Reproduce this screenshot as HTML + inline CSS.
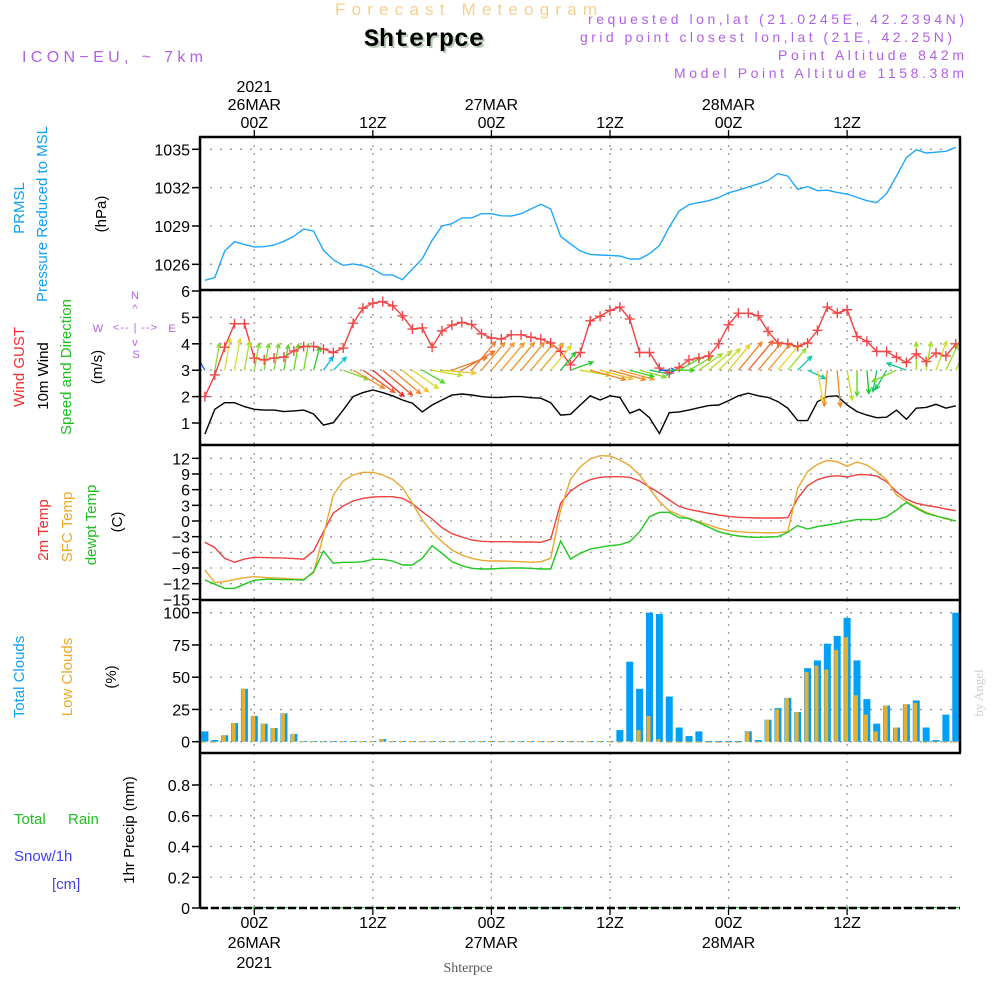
<!DOCTYPE html>
<html><head><meta charset="utf-8"><style>
html,body{margin:0;padding:0;background:#fff;}
svg{display:block;font-family:"Liberation Sans",sans-serif;}
</style></head><body>
<svg id="chart" width="1000" height="1000" viewBox="0 0 1000 1000" xmlns="http://www.w3.org/2000/svg">
<defs><clipPath id="plotclip"><rect x="200" y="137" width="760" height="771"/></clipPath></defs>
<rect x="0" y="0" width="1000" height="1000" fill="#fff"/>
<g id="grid"></g>
<g id="marks" clip-path="url(#plotclip)"></g>
<g id="frame"></g>
<g id="labels">
<text x="466" y="15" font-size="17" fill="#f4d08c" text-anchor="middle" textLength="262">Forecast Meteogram</text>
<text x="426" y="48" font-size="25" font-weight="bold" font-family="Liberation Mono, monospace" fill="#b8ccb8" text-anchor="middle">Shterpce</text>
<text x="424" y="46" font-size="25" font-weight="bold" font-family="Liberation Mono, monospace" fill="#000" text-anchor="middle">Shterpce</text>
<text x="22" y="62" font-size="16" fill="#b060e8" textLength="181">ICON−EU, ~ 7km</text>
<text x="964" y="24" font-size="14" fill="#b060e8" text-anchor="end" textLength="376">requested lon,lat (21.0245E, 42.2394N)</text>
<text x="952" y="42" font-size="14" fill="#b060e8" text-anchor="end" textLength="372">grid point closest lon,lat (21E, 42.25N)</text>
<text x="964" y="60" font-size="14" fill="#b060e8" text-anchor="end" textLength="186">Point Altitude 842m</text>
<text x="964" y="78" font-size="14" fill="#b060e8" text-anchor="end" textLength="290">Model Point Altitude 1158.38m</text>

<text transform="translate(24,208) rotate(-90)" font-size="15" fill="#10a0f0" text-anchor="middle">PRMSL</text>
<text transform="translate(47,214) rotate(-90)" font-size="15" fill="#10a0f0" text-anchor="middle">Pressure Reduced to MSL</text>
<text transform="translate(106,214) rotate(-90)" font-size="15" fill="#000" text-anchor="middle">(hPa)</text>

<text transform="translate(24,367) rotate(-90)" font-size="15" fill="#f03030" text-anchor="middle">Wind GUST</text>
<text transform="translate(48,376) rotate(-90)" font-size="15" fill="#000" text-anchor="middle">10m Wind</text>
<text transform="translate(71,367) rotate(-90)" font-size="15" fill="#20c020" text-anchor="middle">Speed and Direction</text>
<text transform="translate(102,367) rotate(-90)" font-size="15" fill="#000" text-anchor="middle">(m/s)</text>
<g fill="#b060e8" font-size="11" text-anchor="middle">
<text x="135" y="299">N</text><text x="98" y="332">W</text><text x="172" y="332">E</text><text x="136" y="358">S</text>
<text x="135" y="331" font-size="11" textLength="44">&lt;-- | --&gt;</text>
<text x="135" y="312">^</text><text x="135" y="346">v</text>
</g>

<text transform="translate(48,530) rotate(-90)" font-size="15" fill="#f03030" text-anchor="middle">2m Temp</text>
<text transform="translate(72,527) rotate(-90)" font-size="15" fill="#f0a828" text-anchor="middle">SFC Temp</text>
<text transform="translate(96,525) rotate(-90)" font-size="15" fill="#20c020" text-anchor="middle">dewpt Temp</text>
<text transform="translate(122,522) rotate(-90)" font-size="15" fill="#000" text-anchor="middle">(C)</text>

<text transform="translate(24,677) rotate(-90)" font-size="15" fill="#10a0f0" text-anchor="middle">Total Clouds</text>
<text transform="translate(72,677) rotate(-90)" font-size="15" fill="#f0a828" text-anchor="middle">Low Clouds</text>
<text transform="translate(116,677) rotate(-90)" font-size="15" fill="#000" text-anchor="middle">(%)</text>

<text x="14" y="824" font-size="15" fill="#20c020">Total</text>
<text x="68" y="824" font-size="15" fill="#20c020">Rain</text>
<text x="14" y="861" font-size="15" fill="#4040f0">Snow/1h</text>
<text x="52" y="889" font-size="15" fill="#4040f0">[cm]</text>
<text transform="translate(134,830) rotate(-90)" font-size="15" fill="#000" text-anchor="middle">1hr Precip (mm)</text>

<text transform="translate(983,693) rotate(-90)" font-size="13" font-family="Liberation Serif, serif" fill="#d0d0d0" text-anchor="middle">by Angel</text>
<text x="468" y="972" font-size="14" font-family="Liberation Serif, serif" fill="#555" text-anchor="middle">Shterpce</text>
</g>
</svg>
<script>
// ---- data (hourly from h=-5 to h=71, h=0 is 26MAR 00Z) ----
const hours = [-5,-4,-3,-2,-1,0,1,2,3,4,5,6,7,8,9,10,11,12,13,14,15,16,17,18,19,20,21,22,23,24,25,26,27,28,29,30,31,32,33,34,35,36,37,38,39,40,41,42,43,44,45,46,47,48,49,50,51,52,53,54,55,56,57,58,59,60,61,62,63,64,65,66,67,68,69,70,71];
const pressure = [1024.75,1024.96,1027.04,1027.77,1027.56,1027.36,1027.38,1027.51,1027.8,1028.19,1028.76,1028.6,1027.1,1026.36,1025.92,1026.03,1025.9,1025.63,1025.19,1025.16,1024.8,1025.63,1026.44,1027.88,1029.0,1029.18,1029.63,1029.63,1029.96,1029.96,1029.8,1029.78,1029.96,1030.33,1030.7,1030.33,1028.19,1027.6,1027.04,1026.78,1026.73,1026.7,1026.65,1026.42,1026.42,1026.83,1027.46,1028.92,1030.17,1030.67,1030.83,1030.98,1031.22,1031.6,1031.8,1032.05,1032.29,1032.57,1033.1,1032.9,1031.87,1032.08,1031.76,1031.8,1031.63,1031.5,1031.24,1030.98,1030.83,1031.53,1032.9,1034.35,1034.97,1034.71,1034.77,1034.84,1035.16];
const gust = [2.0,2.82,3.87,4.76,4.76,3.46,3.39,3.46,3.5,3.73,3.9,3.9,3.8,3.67,3.84,4.78,5.35,5.54,5.6,5.44,5.06,4.56,4.6,3.87,4.49,4.71,4.81,4.73,4.38,4.22,4.18,4.34,4.34,4.25,4.18,4.03,3.71,3.2,3.67,4.87,5.04,5.27,5.39,4.94,3.67,3.67,3.08,2.89,3.11,3.39,3.46,3.54,4.0,4.72,5.16,5.16,5.06,4.47,4.03,4.0,3.9,4.03,4.51,5.39,5.16,5.29,4.28,4.09,3.71,3.71,3.49,3.29,3.62,3.33,3.65,3.54,4.0];
const windSpeed = [0.58,1.52,1.77,1.77,1.62,1.52,1.49,1.49,1.43,1.46,1.49,1.34,0.92,1.01,1.49,2.0,2.15,2.25,2.15,2.03,1.87,1.75,1.42,1.68,1.87,2.06,2.1,2.06,2.0,1.97,1.97,2.0,2.0,1.96,1.94,1.77,1.3,1.33,1.68,2.03,1.87,2.03,1.97,1.37,1.52,1.2,0.6,1.39,1.42,1.49,1.58,1.66,1.68,1.84,2.03,2.13,2.03,1.97,1.81,1.56,1.09,1.09,1.81,2.0,2.03,1.68,1.43,1.3,1.2,1.22,1.49,1.14,1.56,1.59,1.71,1.56,1.65];
const windDir = [330,10,10,10,10,10,10,10,10,10,10,15,35,45,110,120,125,130,130,130,130,125,120,100,95,70,60,40,40,40,40,40,40,40,40,40,40,70,100,105,105,105,105,105,105,100,90,90,60,60,55,50,45,40,40,40,40,40,40,40,45,115,170,185,175,170,180,175,190,210,245,290,0,10,20,25,25];
const temp2m = [-4.08,-5.1,-7.15,-7.9,-7.3,-6.95,-7.0,-7.05,-7.1,-7.2,-7.3,-5.74,-2.04,1.53,2.87,3.83,4.34,4.6,4.66,4.66,4.34,3.32,1.79,0.38,-1.28,-2.43,-3.06,-3.64,-3.89,-3.96,-3.96,-3.96,-4.02,-4.02,-4.08,-3.5,3.38,5.74,7.02,7.91,8.36,8.49,8.49,8.36,7.66,6.5,5.36,4.02,2.8,2.23,1.85,1.47,1.15,0.89,0.7,0.64,0.57,0.57,0.57,0.64,4.34,6.76,7.91,8.49,8.68,8.42,8.87,8.87,8.6,7.53,5.6,4.2,3.38,3.0,2.68,2.3,1.98];
const tempSfc = [-9.38,-11.8,-11.6,-11.2,-10.85,-10.66,-10.79,-10.92,-10.98,-11.1,-11.17,-9.9,-2.7,4.98,7.66,8.8,9.32,9.32,8.8,7.98,6.38,3.38,0.19,-2.17,-3.96,-5.55,-6.51,-7.15,-7.53,-7.66,-7.66,-7.72,-7.79,-7.91,-7.79,-7.15,2.1,7.98,10.4,11.87,12.5,12.44,11.68,10.6,8.8,6.25,3.7,1.98,1.15,0.38,-0.13,-0.77,-1.4,-1.85,-2.04,-2.17,-2.23,-2.3,-2.23,-2.04,6.25,9.45,10.85,11.6,11.36,10.47,11.3,10.72,9.45,7.85,4.98,3.7,2.68,1.66,1.02,0.38,0.0];
const dewpt = [-11.3,-12.1,-12.9,-12.9,-12.1,-11.36,-11.17,-11.17,-11.23,-11.23,-11.3,-9.7,-5.74,-8.1,-7.91,-7.91,-7.79,-7.34,-7.34,-7.66,-8.42,-8.42,-7.15,-4.72,-6.19,-7.79,-8.55,-9.06,-9.19,-9.19,-9.06,-9.0,-9.0,-9.06,-9.19,-9.19,-3.83,-7.28,-6.19,-5.36,-5.04,-4.72,-4.53,-3.96,-2.04,0.83,1.66,1.66,0.64,0.51,-0.32,-1.21,-2.04,-2.55,-2.87,-3.06,-3.13,-3.06,-3.0,-2.17,-0.89,-1.53,-1.08,-0.77,-0.45,-0.06,0.26,0.26,0.26,0.83,2.1,3.57,2.43,1.47,0.96,0.51,0.0];
const totalClouds = [8,1.3,5,14.5,41,20,14,10.6,22,6,0.5,0.5,0.5,0.5,0.5,0.5,0.5,0.5,2,0.5,0.5,0.5,0.5,0.5,0.5,0.5,0.5,0.5,0.5,0.5,0.5,0.5,0.5,0.5,0.5,0.5,0.5,0.5,0.5,0.5,0.5,0.5,9,62,41,100,99,35,11,4.4,8,0.5,0.5,0.5,0.5,8,1.3,17,26,34,23,57,63,76,82,96,63,33,14,28,11,29,32,11,1.3,21,100];
const lowClouds = [0,0,5,14.5,41,20,14,10.6,22,6,0.5,0.5,0.5,0.5,0.5,0.5,0.5,0.5,2,0.5,0.5,0.5,0.5,0.5,0.5,0.5,0.5,0.5,0.5,0.5,0.5,0.5,0.5,0.5,0.5,0.5,0.5,0.5,0.5,0.5,0.5,0.5,0,0.5,9,20,2,0,0,0,0,0,0,0,0,7.5,0,17,25,34,23,54,59,56,71,81,36,21,8,28,11,29,30,0,0,0,0];
const precip = hours.map(()=>0);
const timeTicks = [0,12,24,36,48,60];
const timeLabels = ["00Z","12Z","00Z","12Z","00Z","12Z"];
const dateLabels = ["26MAR","","27MAR","","28MAR",""];
const pTicks = [1026,1029,1032,1035];
const wTicks = [1,2,3,4,5,6];
const tTicks = [12,9,6,3,0,-3,-6,-9,-12,-15];
const cTicks = [0,25,50,75,100];
const rTicks = [0,0.2,0.4,0.6,0.8];

// ---- axes ----
const X = h => 254.3 + h*9.88;
const yP = p => 149.3 + (1035-p)*12.78;
const yW = v => 291 + (6-v)*26.4;
const yT = t => 521 - t*5.223;
const yC = c => 741.7 - c*1.29;
const yR = r => 908 - r*153.75;

const NS="http://www.w3.org/2000/svg";
const grid=document.getElementById('grid'), marks=document.getElementById('marks'), frame=document.getElementById('frame');
function mk(tag,attrs,parent){const e=document.createElementNS(NS,tag);for(const k in attrs)e.setAttribute(k,attrs[k]);parent.appendChild(e);return e;}

const panels=[[137,290],[290,445],[445,600],[600,753],[753,908]];
panels.forEach(([a,b])=>{timeTicks.forEach(h=>{
  const l=mk('line',{x1:X(h),x2:X(h),y1:a,y2:b,stroke:'#999','stroke-dasharray':'2,6','stroke-width':1.3},grid);
  
  
});});
function yAxis(ticks,fy,fmt){ticks.forEach(v=>{
  const y=fy(v);
  const l=mk('line',{x1:200,x2:960,y1:y,y2:y,stroke:'#999','stroke-dasharray':'2,8','stroke-width':1.3},grid);
  
  
  const t=mk('line',{x1:192,x2:200,y1:y,y2:y,stroke:'#000','stroke-width':1.5},frame);
  
  
  const tx=mk('text',{x:190,y:y+6,'font-size':16,'text-anchor':'end',fill:'#000'},frame);
  tx.textContent=fmt(v);
  
  
});}
yAxis(pTicks,yP,v=>String(v));
yAxis(wTicks,yW,v=>String(v));
yAxis(tTicks,yT,v=>String(v).replace('-','−'));
yAxis(cTicks,yC,v=>String(v));
yAxis(rTicks,yR,v=>v===0?'0':v.toFixed(1));

mk('line',{x1:200,x2:200,y1:137,y2:908,stroke:'#000','stroke-width':2.5},frame);
mk('line',{x1:960,x2:960,y1:137,y2:753,stroke:'#000','stroke-width':2.5},frame);
[137,290,445,600,753].forEach(y=>{const l=mk('line',{x1:199,x2:961,y1:y,y2:y,stroke:'#000','stroke-width':2.5},frame);
  
  });
mk('line',{x1:200,x2:960,y1:908,y2:908,stroke:'#000','stroke-width':2.5,'stroke-dasharray':'8,3'},frame);

timeTicks.forEach((h,i)=>{
  mk('line',{x1:X(h),x2:X(h),y1:130,y2:137,stroke:'#000','stroke-width':1.3},frame);
  mk('line',{x1:X(h),x2:X(h),y1:908,y2:915,stroke:'#000','stroke-width':1.3},frame);
  const a=mk('text',{x:X(h),y:128,'font-size':16,'text-anchor':'middle',fill:'#000'},frame);a.textContent=timeLabels[i];
  
  
  const b=mk('text',{x:X(h),y:928,'font-size':16,'text-anchor':'middle',fill:'#000'},frame);b.textContent=timeLabels[i];
  
  
  if(dateLabels[i]){
    const c=mk('text',{x:X(h),y:110,'font-size':16,'text-anchor':'middle',fill:'#000'},frame);c.textContent=dateLabels[i];
    
    
    const d=mk('text',{x:X(h),y:948,'font-size':16,'text-anchor':'middle',fill:'#000'},frame);d.textContent=dateLabels[i];
    
    
  }
});
[[92],[968]].forEach(([y])=>{const t=mk('text',{x:X(0),y:y,'font-size':16,'text-anchor':'middle',fill:'#000'},frame);t.textContent='2021';
  
  });

function line(vals,fy,color,name){
  const d=vals.map((v,i)=>(i?'L':'M')+X(hours[i]).toFixed(1)+','+fy(v).toFixed(1)).join('');
  const p=mk('path',{d:d,fill:'none',stroke:color,'stroke-width':1.4},marks);
  
  
}
hours.forEach((h,i)=>{
  const x=X(h);
  const b=mk('rect',{x:x-3.5,y:yC(totalClouds[i]),width:7,height:Math.max(1,yC(0)-yC(totalClouds[i])),fill:'#00a0f8'},marks);
  
  
  const o=mk('rect',{x:x-3,y:yC(lowClouds[i]),width:4,height:Math.max(1,yC(0)-yC(lowClouds[i])),fill:'#e8b030'},marks);
  
  
  const r=mk('rect',{x:x-3.5,y:yR(precip[i])-1,width:7,height:1+(yR(0)-yR(precip[i])),fill:'#20c020'},marks);
  
  
});
line(pressure,yP,'#20a8f8','pressure-line');
line(temp2m,yT,'#f04040','temp-2m-line');
line(tempSfc,yT,'#e8a830','sfc-temp-line');
line(dewpt,yT,'#20c820','dewpoint-line');
line(windSpeed,yW,'#000','wind-speed-line');
line(gust,yW,'#f04040','gust-line');
const cs=[[0.6,[20,90,255]],[1.0,[0,200,220]],[1.3,[20,200,40]],[1.55,[150,220,40]],[1.8,[230,220,40]],[1.95,[240,160,40]],[2.1,[240,110,40]],[2.25,[240,40,40]]];
function col(s){if(s<=cs[0][0])return 'rgb('+cs[0][1]+')';for(let k=1;k<cs.length;k++){if(s<=cs[k][0]){const f=(s-cs[k-1][0])/(cs[k][0]-cs[k-1][0]);const c=cs[k-1][1].map((a,j)=>Math.round(a+(cs[k][1][j]-a)*f));return 'rgb('+c+')';}}return 'rgb('+cs[cs.length-1][1]+')';}
hours.forEach((h,i)=>{
  const x0=X(h), y0=yW(3);
  const L=Math.max(16,windSpeed[i]*18);
  const a=windDir[i]*Math.PI/180;
  const x1=x0+Math.sin(a)*L, y1=y0-Math.cos(a)*L;
  const c=col(windSpeed[i]);
  const hb=5, ang=Math.atan2(y1-y0,x1-x0);
  const d='M'+x0.toFixed(1)+','+y0.toFixed(1)+'L'+x1.toFixed(1)+','+y1.toFixed(1)+
   'M'+(x1-hb*Math.cos(ang-0.45)).toFixed(1)+','+(y1-hb*Math.sin(ang-0.45)).toFixed(1)+'L'+x1.toFixed(1)+','+y1.toFixed(1)+
   'L'+(x1-hb*Math.cos(ang+0.45)).toFixed(1)+','+(y1-hb*Math.sin(ang+0.45)).toFixed(1);
  const p=mk('path',{d:d,fill:'none',stroke:c,'stroke-width':1.3},marks);
  
  
});
gust.forEach((g,i)=>{
  const x=X(hours[i]), y=yW(g);
  const p=mk('path',{d:'M'+(x-5)+','+y+'H'+(x+5)+'M'+x+','+(y-5)+'V'+(y+5),stroke:'#f04848','stroke-width':1.4,fill:'none'},marks);
  
  
});
</script>
</body></html>
